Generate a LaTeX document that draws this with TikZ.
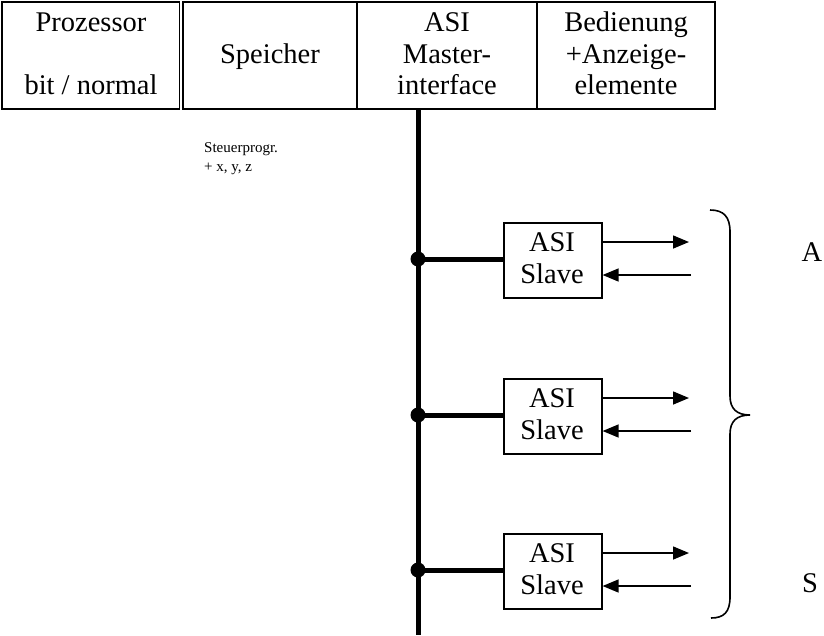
\documentclass[tikz,border=0pt]{standalone}
\usepackage{fontspec}
\setmainfont{Liberation Serif}
\usetikzlibrary{arrows.meta}
\begin{document}
\begin{tikzpicture}[x=1pt,y=-1pt,
  big/.style={font=\fontsize{28.5}{31.5}\selectfont, inner sep=0pt, anchor=base},
  small/.style={font=\fontsize{15}{18}\selectfont, inner sep=0pt, anchor=base west},
  cell/.style={draw, line width=1.8pt},
  slavebox/.style={draw, line width=1.6pt, minimum width=98pt, minimum height=75pt, inner sep=0pt, anchor=north west},
  bus/.style={line width=5pt},
  stub/.style={line width=5pt},
  dot/.style={circle, fill, inner sep=0pt, minimum size=15pt},
  sig/.style={line width=1.5pt, -{Triangle[length=16pt,width=13pt]}},
  brace/.style={line width=1.6pt},
]
\useasboundingbox (0,0) rectangle (824,635);
% header table
\draw[cell] (2,2) rectangle (179.5,109);
\draw[cell] (183,2) rectangle (715,109);
\draw[cell] (357,2) -- (357,109);
\draw[cell] (537,2) -- (537,109);
\node[big] (p1) at (91,31.5) {Prozessor};
\node[big] (p2) at (91,94.5) {bit / normal};
\node[big] (sp) at (270,63) {Speicher};
\node[big] (m1) at (447,31.5) {ASI};
\node[big] (m2) at (447,63) {Master-};
\node[big] (m3) at (447,94.5) {interface};
\node[big] (b1) at (626,31.5) {Bedienung};
\node[big] (b2) at (626,63) {+Anzeige-};
\node[big] (b3) at (626,94.5) {elemente};
% note
\node[small] (n1) at (204,152) {Steuerprogr.};
\node[small] (n2) at (204,171) {+ x, y, z};
% bus
\coordinate (bt) at (418,109);
\coordinate (bb) at (418,635);
\draw[bus] (bt) -- (bb);
% slaves
\foreach \i/\t in {1/222, 2/378, 3/533}{
  \node[slavebox] (s\i) at (503,\t) {};
  \node[big] (s\i a) at (552,\t+29) {ASI};
  \node[big] (s\i b) at (552,\t+61) {Slave};
  \node[dot] (d\i) at (418,\t+37) {};
  \draw[stub] (d\i.center) -- (s\i.west |- d\i.center);
  \coordinate (o\i) at (689,\t+20);
  \coordinate (r\i) at (691,\t+53);
  \draw[sig] (s\i.east |- o\i) -- (o\i);
  \draw[sig] (r\i) -- (s\i.east |- r\i);
}
% brace
\draw[brace] (710,210) .. controls (724,210) and (730,217) .. (730,232)
  -- (730,396) .. controls (730,409) and (737,415) .. (750,415)
  .. controls (737,415) and (730,421) .. (730,434)
  -- (730,597) .. controls (730,612) and (724,618) .. (711,618);
\node[big] (la) at (812,261) {A};
\node[big] (ls) at (810,592) {S};
\end{tikzpicture}
\end{document}
